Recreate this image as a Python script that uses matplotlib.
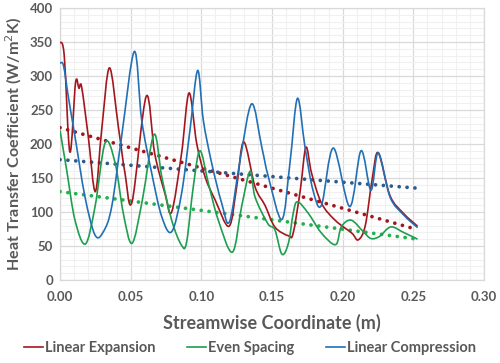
import numpy as np
import matplotlib
matplotlib.use("Agg")
import matplotlib.pyplot as plt
from matplotlib.path import Path
from matplotlib.patches import PathPatch
from matplotlib.lines import Line2D
from matplotlib.ticker import MultipleLocator

# values
exp_x = [0.000, 0.003, 0.007, 0.011, 0.0134, 0.0153, 0.020, 0.025, 0.0295, 0.035, 0.0413, 0.046,
         0.051, 0.061, 0.067, 0.0743, 0.079, 0.086, 0.0913, 0.0967, 0.1026, 0.1097, 0.1196,
         0.125, 0.130, 0.138, 0.145, 0.152, 0.1616, 0.165, 0.170, 0.174, 0.178, 0.185, 0.1946,
         0.2064, 0.211, 0.216, 0.221, 0.2252, 0.2335, 0.243, 0.253]
exp_y = [350, 330, 188, 290, 282, 284, 211, 130, 221, 312, 225, 157,
         115, 270, 186, 127, 100, 186, 275, 201, 152, 118, 79,
         137, 203, 137, 110, 78, 65, 69, 132, 195, 157, 113, 88,
         69, 59, 80, 150, 187, 124, 98, 79]

even_x = [0.000, 0.0047, 0.0106, 0.018, 0.0248, 0.032, 0.039, 0.0448, 0.051, 0.0583, 0.0665,
          0.072, 0.079, 0.086, 0.0896, 0.0943, 0.099, 0.105, 0.112, 0.122, 0.1285, 0.1345,
          0.138, 0.147, 0.152, 0.157, 0.1616, 0.165, 0.168, 0.1757, 0.185, 0.195, 0.199,
          0.206, 0.2146, 0.220, 0.226, 0.234, 0.243, 0.253]
even_y = [220, 162, 88, 53, 108, 202, 172, 98, 54, 118, 214,
          152, 88, 51, 56, 137, 190, 142, 88, 41, 108, 160,
          122, 83, 74, 38, 54, 98, 115, 98, 69, 52, 78,
          88, 71, 61, 64, 78, 70, 60]

comp_x = [0.000, 0.0025, 0.006, 0.0106, 0.0177, 0.0248, 0.0307, 0.0366, 0.0436, 0.0526, 0.0578,
          0.0649, 0.072, 0.079, 0.086, 0.092, 0.0974, 0.1014, 0.1073, 0.1144, 0.120, 0.1274,
          0.1356, 0.1427, 0.1474, 0.157, 0.1627, 0.168, 0.1733, 0.179, 0.185, 0.1934, 0.205,
          0.213, 0.220, 0.2252, 0.2335, 0.243, 0.253]
comp_y = [319, 315, 268, 211, 122, 66, 71, 108, 211, 336, 235,
          157, 93, 71, 127, 221, 308, 235, 172, 113, 86, 176,
          259, 196, 152, 89, 172, 267, 196, 132, 110, 194, 108,
          190, 132, 187, 122, 96, 77]

# linear trend lines (end values)
trend_x = [0.0, 0.253]
exp_trend = [224, 74]
even_trend = [130, 60]
comp_trend = [177, 135]

labels = ["Linear Expansion", "Even Spacing", "Linear Compression"]
line_colors = ["#A3161E", "#1E9E4F", "#2170B5"]
dot_colors = ["#A3161E", "#22B14C", "#2D5C8C"]


def smooth_path(xs, ys):
    # Excel-style smoothed line: cubic Bezier segments through every point
    p = np.column_stack([xs, ys]).astype(float)
    n = len(p)
    verts = [p[0]]
    codes = [Path.MOVETO]
    for i in range(n - 1):
        p0 = p[i - 1] if i > 0 else p[i]
        p3 = p[i + 2] if i + 2 < n else p[i + 1]
        c1 = p[i] + (p[i + 1] - p0) / 6.0
        c2 = p[i + 1] - (p3 - p[i]) / 6.0
        verts += [c1, c2, p[i + 1]]
        codes += [Path.CURVE4] * 3
    return Path(verts, codes)


plt.rcParams['font.family'] = ['Lato', 'DejaVu Sans']
fig = plt.figure(figsize=(5.0, 3.63), dpi=100)
ax = fig.add_axes([0.12, 0.2287, 0.848, 0.7493])

series = [(exp_x, exp_y, exp_trend), (even_x, even_y, even_trend), (comp_x, comp_y, comp_trend)]
for (xs, ys, tr), lc, dc in zip(series, line_colors, dot_colors):
    ax.plot(trend_x, tr, color=dc, linewidth=2.7, linestyle=(0, (0.01, 2.1)),
            dash_capstyle='round', zorder=3)
for (xs, ys, tr), lc in zip(series, line_colors):
    ax.add_patch(PathPatch(smooth_path(xs, ys), facecolor='none', edgecolor=lc,
                           linewidth=1.2, zorder=4))

ax.set_xlim(0, 0.30)
ax.set_ylim(0, 400)
ax.xaxis.set_major_locator(MultipleLocator(0.05))
ax.xaxis.set_minor_locator(MultipleLocator(0.01))
ax.yaxis.set_major_locator(MultipleLocator(50))
ax.yaxis.set_minor_locator(MultipleLocator(10))
ax.grid(which='major', color='#D9D9D9', linewidth=0.9)
ax.grid(which='minor', color='#F0F0F0', linewidth=0.8)
ax.set_axisbelow(True)
for s in ax.spines.values():
    s.set_color('#D9D9D9')
    s.set_linewidth(0.9)
ax.tick_params(which='both', length=0, colors='#595959', labelsize=9.5, pad=5)
ax.xaxis.set_major_formatter(matplotlib.ticker.FormatStrFormatter('%.2f'))
for t in ax.get_xticklabels() + ax.get_yticklabels():
    t.set_fontweight('bold')
ax.tick_params(axis='x', pad=8)

ax.set_xlabel("Streamwise Coordinate (m)", fontsize=13, fontweight='bold', color='#595959', labelpad=8)
ax.set_ylabel("Heat Transfer Coefficient (W/m$^2$K)", fontsize=11.6, fontweight='bold',
              color='#595959', labelpad=4)

handles = [Line2D([], [], color=c, linewidth=1.2) for c in line_colors]
fig.legend(handles, labels, loc='center', bbox_to_anchor=(0.5, 0.04), ncol=3, frameon=False,
           handlelength=1.3, handletextpad=0.1, columnspacing=2.2,
           prop={'size': 10.5, 'weight': 'bold'}, labelcolor='#595959')

fig.savefig("out.png", dpi=100)
